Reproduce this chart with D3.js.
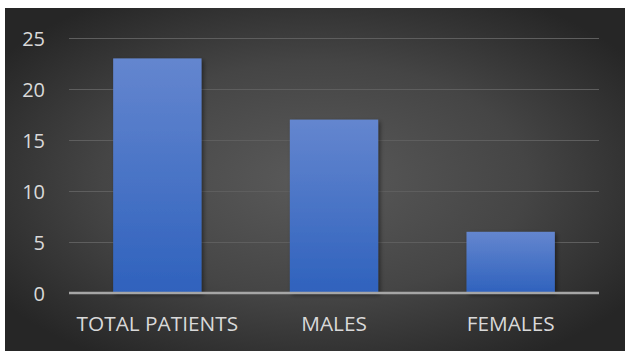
<!DOCTYPE html>
<html>
<head>
<meta charset="utf-8">
<script src="https://cdn.jsdelivr.net/npm/d3@7"></script>
<style>
  html, body { margin: 0; padding: 0; background: #ffffff; }
  svg { display: block; }
</style>
</head>
<body>
<div id="chart"></div>
<script>
// Patient counts by group
const categories = ["TOTAL PATIENTS", "MALES", "FEMALES"];
const counts = [23, 17, 6];
const yTicks = [0, 5, 10, 15, 20, 25];

const W = 625, H = 351;
const panel = { x: 5, y: 8, w: 620, h: 343 };
const plot = { left: 69, right: 599, top: 38, bottom: 293 };
const FONT = "'Open Sans', 'Noto Sans', sans-serif";

const svg = d3.select("#chart").append("svg")
  .attr("width", W).attr("height", H);

const defs = svg.append("defs");

// Dark panel with a soft light spot in the middle
const bg = defs.append("radialGradient").attr("id", "bgGrad")
  .attr("cx", "50%").attr("cy", "50%").attr("r", "62%");
bg.append("stop").attr("offset", "0%").attr("stop-color", "#5a5a5a");
bg.append("stop").attr("offset", "55%").attr("stop-color", "#454545");
bg.append("stop").attr("offset", "100%").attr("stop-color", "#262626");

const barGrad = defs.append("linearGradient").attr("id", "barGrad")
  .attr("x1", 0).attr("y1", 0).attr("x2", 0).attr("y2", 1);
barGrad.append("stop").attr("offset", "0%").attr("stop-color", "#6486cf");
barGrad.append("stop").attr("offset", "100%").attr("stop-color", "#2f62bd");

const shadow = defs.append("filter").attr("id", "barShadow")
  .attr("x", "-10%").attr("y", "-10%").attr("width", "130%").attr("height", "130%");
shadow.append("feDropShadow").attr("dx", 2).attr("dy", 2)
  .attr("stdDeviation", 2).attr("flood-color", "#000").attr("flood-opacity", 0.45);

svg.append("rect")
  .attr("x", panel.x).attr("y", panel.y)
  .attr("width", panel.w).attr("height", panel.h)
  .attr("fill", "url(#bgGrad)");

const x = d3.scaleBand()
  .domain(categories)
  .range([plot.left, plot.right])
  .paddingInner(0.5).paddingOuter(0.25);

const y = d3.scaleLinear()
  .domain([0, 25])
  .range([plot.bottom, plot.top]);

// Horizontal gridlines
svg.append("g")
  .selectAll("line")
  .data(yTicks.filter(d => d > 0))
  .join("line")
  .attr("x1", plot.left).attr("x2", plot.right)
  .attr("y1", d => y(d) + 0.5).attr("y2", d => y(d) + 0.5)
  .attr("stroke", "#5e5e5e").attr("stroke-width", 1.2);

// Y axis labels
const yAxis = d3.axisLeft(y).tickValues(yTicks).tickSize(0).tickPadding(0);
const yG = svg.append("g")
  .attr("transform", `translate(${45},0)`)
  .call(yAxis);
yG.select(".domain").remove();
yG.selectAll("text")
  .attr("fill", "#d9d9d9")
  .attr("font-family", FONT)
  .attr("font-size", 20)
  .attr("dy", "0.36em");

// Bars
svg.append("g")
  .selectAll("rect")
  .data(categories.map((c, i) => ({ c, v: counts[i] })))
  .join("rect")
  .attr("x", d => x(d.c))
  .attr("y", d => y(d.v))
  .attr("width", x.bandwidth())
  .attr("height", d => y(0) - y(d.v))
  .attr("fill", "url(#barGrad)")
  .attr("filter", "url(#barShadow)");

// Baseline
svg.append("line")
  .attr("x1", plot.left).attr("x2", plot.right)
  .attr("y1", y(0)).attr("y2", y(0))
  .attr("stroke", "#a6a6a6").attr("stroke-width", 2.5);

// Category labels
const xAxis = d3.axisBottom(x).tickSize(0).tickPadding(0);
const xG = svg.append("g")
  .attr("transform", `translate(0,${331})`)
  .call(xAxis);
xG.select(".domain").remove();
xG.selectAll("text")
  .attr("fill", "#d9d9d9")
  .attr("font-family", FONT)
  .attr("font-size", 20.8)
  .attr("y", 0)
  .attr("dy", 0);
</script>
</body>
</html>
